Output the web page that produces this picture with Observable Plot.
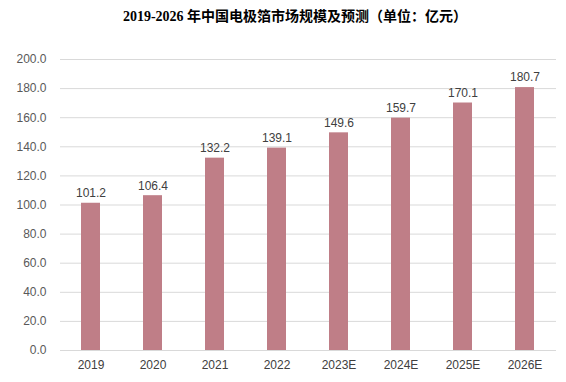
<!DOCTYPE html>
<html><head><meta charset="utf-8">
<script src="https://cdn.jsdelivr.net/npm/d3@7"></script>
<script src="https://cdn.jsdelivr.net/npm/@observablehq/plot@0.6"></script>
<style>
body{margin:0;background:#fff;width:566px;}
#title{height:36px;line-height:34px;text-align:center;font-family:"Liberation Serif","Noto Sans CJK SC",serif;font-weight:bold;font-size:14px;color:#000;padding-left:24px;box-sizing:border-box;}
</style></head>
<body>
<div id="title">2019-2026 年中国电极箔市场规模及预测（单位：亿元）</div>
<div id="chart"></div>
<script>
const years = ["2019","2020","2021","2022","2023E","2024E","2025E","2026E"];
const values = [101.2,106.4,132.2,139.1,149.6,159.7,170.1,180.7];
const yTicks = [0,20,40,60,80,100,120,140,160,180,200];
const data = years.map((y,i)=>({year:y, value:values[i]}));
const plot = Plot.plot({
  width:566, height:346,
  marginTop:23, marginBottom:32, marginLeft:60, marginRight:10,
  style:{fontFamily:"Liberation Sans, Arial, sans-serif", fontSize:"12px", color:"#595959", background:"#fff"},
  x:{domain:years, paddingInner:0.69, paddingOuter:0.345, label:null},
  y:{domain:[0,200], label:null},
  marks:[
    Plot.gridY(yTicks,{stroke:"#d9d9d9", strokeOpacity:1}),
    Plot.barY(data,{x:"year", y:"value", fill:"#bf7e87"}),
    Plot.text(data,{x:"year", y:"value", text:d=>d.value.toFixed(1), dy:-10, fill:"#404040", fontSize:12}),
    Plot.axisY(yTicks,{tickSize:0, tickPadding:14, tickFormat:d=>d.toFixed(1), fill:"#595959", fontSize:12, label:null}),
    Plot.axisX({tickSize:0, tickPadding:10, fill:"#404040", fontSize:12, label:null})
  ]
});
document.getElementById("chart").appendChild(plot);
</script>
</body></html>
